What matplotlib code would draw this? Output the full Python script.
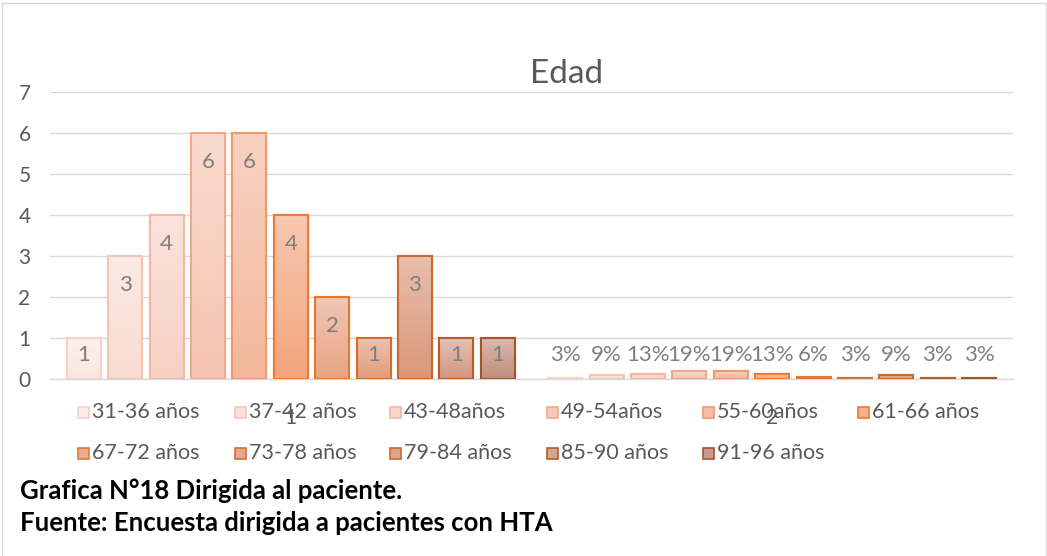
import matplotlib
matplotlib.use("Agg")
import matplotlib.pyplot as plt
import numpy as np
from matplotlib.patches import Rectangle
from matplotlib.lines import Line2D
from matplotlib.colors import to_rgb

# ---------------- data ----------------
categories = ["1", "2"]
series_labels = ["31-36 años", "37-42 años", "43-48años", "49-54años", "55-60años",
                 "61-66 años", "67-72 años", "73-78 años", "79-84 años", "85-90 años",
                 "91-96 años"]
counts = [1, 3, 4, 6, 6, 4, 2, 1, 3, 1, 1]
percents = [0.03, 0.09, 0.13, 0.19, 0.19, 0.13, 0.06, 0.03, 0.09, 0.03, 0.03]
yticks = [0, 1, 2, 3, 4, 5, 6, 7]
title = "Edad"
footer1 = "Grafica N°18 Dirigida al paciente."
footer2 = "Fuente: Encuesta dirigida a pacientes con HTA"

# ---------------- style ----------------
fills = ["#FCEAE4", "#FAE1D7", "#F8D7CB", "#F7CBBA", "#F5BFA7", "#F4B08E",
         "#EBAE95", "#E5A78F", "#DEA38A", "#D7A595", "#C99B8E"]
edges = ["#F7D3C6", "#F4C5B3", "#F1B9A3", "#F0A98A", "#EE9A6B", "#EB7B35",
         "#E07A33", "#D56E2B", "#C9692D", "#B65C24", "#A3552A"]
text_gray = "#595959"
label_gray = "#7F7F7F"
grid_gray = "#D9D9D9"
FONT = "Lato"

W, H = 1047, 556
fig = plt.figure(figsize=(W / 100, H / 100), dpi=100)
ax_l, ax_r, ax_t, ax_b = 50, 1013, 92, 379
ax = fig.add_axes([ax_l / W, 1 - ax_b / H, (ax_r - ax_l) / W, (ax_b - ax_t) / H])

XLIM, YLIM = (-0.5, 1.5), (0, 7)
ax.set_xlim(*XLIM)
ax.set_ylim(*YLIM)
ax.set_yticks(yticks)
ax.set_yticklabels([str(t) for t in yticks], fontsize=15, color=text_gray, family=FONT)
ax.set_xticks(range(len(categories)))
ax.set_xticklabels(categories, fontsize=15, color=text_gray, family=FONT)
ax.tick_params(axis="y", length=0, pad=14)
ax.tick_params(axis="x", length=0, pad=21)
for s in ["left", "right", "top"]:
    ax.spines[s].set_visible(False)
ax.spines["bottom"].set_color(grid_gray)
ax.spines["bottom"].set_linewidth(1.0)
ax.yaxis.grid(True, color=grid_gray, linewidth=1.0)
ax.set_axisbelow(True)


def blend(c1, c2, t):
    a, b = np.array(to_rgb(c1)), np.array(to_rgb(c2))
    return a * (1 - t) + b * t


n = len(series_labels)
pitch = 41.4 / 481.5
width = 34.0 / 481.5
groups = [counts, percents]
fmts = [lambda v: f"{v:g}", lambda v: f"{v * 100:.0f}%"]

fig.canvas.draw()
for ci, vals in enumerate(groups):
    for i in range(n):
        x = ci + (i - (n - 1) / 2) * pitch
        bars = ax.bar(x, vals[i], width=width, color=fills[i], edgecolor=edges[i],
                      linewidth=1.5, zorder=3)
        # vertical gradient fill (lighter at top)
        top_c = blend(fills[i], "#FFFFFF", 0.3)
        bot_c = blend(fills[i], edges[i], 0.2)
        t = np.linspace(0, 1, 64)[:, None]
        grad = (top_c[None, :] * (1 - t) + bot_c[None, :] * t)[:, None, :]
        im = ax.imshow(grad, extent=[x - width / 2, x + width / 2, 0, vals[i]],
                       aspect="auto", origin="upper", zorder=3.1, interpolation="bilinear")
        im.set_clip_path(bars[0])
        # redraw edge on top
        ax.bar(x, vals[i], width=width, color="none", edgecolor=edges[i],
               linewidth=1.5, zorder=3.2)
        y0 = ax.transData.transform((0, 0))[1]
        yt = ax.transData.transform((0, vals[i]))[1]
        bar_px = yt - y0
        center_px = max(bar_px - 29, 24)
        ax.annotate(fmts[ci](vals[i]), xy=(x, 0), xytext=(0, center_px * 72 / 100),
                    textcoords="offset points", ha="center", va="center",
                    fontsize=16, color=label_gray, family=FONT, zorder=4)

ax.set_xlim(*XLIM)
ax.set_ylim(*YLIM)

# title
fig.text(567 / W, 1 - 74 / H, title, ha="center", va="center", fontsize=24,
         color=text_gray, family=FONT)

# legend (Excel-like fixed columns)
col_x = [78, 235, 390, 547, 703, 858]
row_y = [412, 453]
for i, lab in enumerate(series_labels):
    r, c = divmod(i, 6)
    mx, my = col_x[c], row_y[r]
    fig.patches.append(Rectangle(((mx) / W, 1 - (my + 6) / H), 11 / W, 11 / H,
                                 transform=fig.transFigure, facecolor=fills[i],
                                 edgecolor=edges[i], linewidth=1.2))
    fig.text((mx + 14) / W, 1 - my / H, lab, ha="left", va="center", fontsize=15.5,
             color=text_gray, family=FONT)

# footer
fig.text(20 / W, 1 - 491 / H, footer1, ha="left", va="center", fontsize=18.5,
         weight="bold", color="black", family=FONT)
fig.text(20 / W, 1 - 523 / H, footer2, ha="left", va="center", fontsize=18.5,
         weight="bold", color="black", family=FONT)

# chart area border
for xs, ys in [([2, 2], [3, 556]), ([2, 1046], [3, 3]), ([1046, 1046], [3, 556])]:
    fig.lines.append(Line2D([x / W for x in xs], [1 - y / H for y in ys],
                            transform=fig.transFigure, color=grid_gray, linewidth=1.0))

fig.savefig("out.png", dpi=100)
